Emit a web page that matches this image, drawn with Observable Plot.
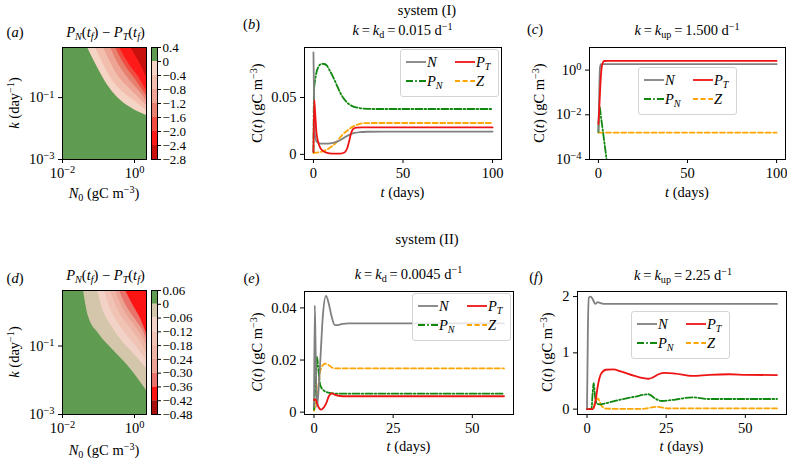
<!DOCTYPE html>
<html>
<head>
<meta charset="utf-8">
<script src="https://cdn.jsdelivr.net/npm/d3@7"></script>
<script src="https://cdn.jsdelivr.net/npm/@observablehq/plot@0.6"></script>
<style>
html,body{margin:0;padding:0;background:#fff;}
#fig{position:relative;width:787px;height:461px;overflow:hidden;background:#fff;font-family:"Liberation Serif","DejaVu Serif",serif;font-size:14.5px;color:#000;}
#fig .t{position:absolute;white-space:nowrap;line-height:1;}
#fig sub,#fig sup{font-size:0.7em;line-height:0;position:relative;vertical-align:baseline;}
#fig sub{top:0.32em;}
#fig sup{top:-0.5em;}
#fig svg.panel{position:absolute;overflow:visible;}
.leg{position:absolute;box-sizing:border-box;border:1px solid #d4d4d4;border-radius:3px;background:rgba(255,255,255,0.8);}
.leg .e{position:absolute;white-space:nowrap;line-height:1;transform:translateY(-50%);}
.leg svg{position:absolute;}
</style>
</head>
<body>
<div id="fig"></div>
<script>
// ================= DATA =================
// contour panels (a) and (d): colour levels, tick labels, band colours
const levelsA = [0.4, 0, -0.4, -0.8, -1.2, -1.6, -2.0, -2.4, -2.8];
const levelLabelsA = ["0.4", "0", "−0.4", "−0.8", "−1.2", "−1.6", "−2.0", "−2.4", "−2.8"];
const colorsA = ["#5f9b51", "#f5d3c5", "#f2bfae", "#eda494", "#e8806f", "#f04d42", "#ff1a1a", "#c8100c"];
const levelsD = [0.06, 0, -0.06, -0.12, -0.18, -0.24, -0.30, -0.36, -0.42, -0.48];
const levelLabelsD = ["0.06", "0", "−0.06", "−0.12", "−0.18", "−0.24", "−0.30", "−0.36", "−0.42", "−0.48"];
const colorsD = ["#5f9b51", "#d4c6ab", "#f2d2c6", "#f0c3b5", "#eeb4a5", "#eca293", "#e9736a", "#fc1414", "#a80f0d"];

// contour boundaries [N0, k] (level 0, -0.4, ... for (a))
const boundA0 = [[0.0494, 4.17], [0.0938, 0.939], [0.1667, 0.286], [0.3373, 0.101], [0.7743, 0.048], [2.154, 0.0264]];
const boundA1 = [[0.0826, 4.17], [0.1377, 1.176], [0.2448, 0.357], [0.5275, 0.136], [1.066, 0.075], [2.154, 0.0384]];
const boundA2 = [[0.1377, 4.17], [0.2154, 1.365], [0.3594, 0.482], [0.681, 0.212], [1.212, 0.1087], [2.154, 0.0556]];
const boundA3 = [[0.2154, 4.17], [0.3162, 1.585], [0.5275, 0.603], [0.879, 0.286], [1.468, 0.146], [2.154, 0.0807]];
const boundA4 = [[0.2965, 4.17], [0.4355, 1.706], [0.681, 0.753], [1.066, 0.386], [1.565, 0.197], [2.154, 0.117]];
const boundA5 = [[0.3831, 4.17], [0.5623, 1.837], [0.8254, 0.939], [1.212, 0.519], [1.668, 0.286], [2.154, 0.170]];
const boundA6 = [[0.7743, 4.17], [1.066, 2.30], [1.377, 1.365], [1.668, 0.873], [2.154, 0.447]];
// (d): level 0, -0.06, ... -0.36
const boundD0 = [[0.0383, 4.17], [0.0527, 0.726], [0.1, 0.232], [0.261, 0.074], [0.681, 0.0252], [2.154, 0.00502]];
const boundD1 = [[0.0938, 4.17], [0.1292, 1.245], [0.2154, 0.425], [0.4355, 0.145], [0.938, 0.0604], [2.154, 0.022]];
const boundD2 = [[0.1468, 4.17], [0.2023, 1.422], [0.3162, 0.556], [0.5995, 0.217], [1.136, 0.0966], [2.154, 0.0378]];
const boundD3 = [[0.2154, 4.17], [0.2965, 1.629], [0.4642, 0.679], [0.7743, 0.324], [1.377, 0.145], [2.154, 0.0646]];
const boundD4 = [[0.2965, 4.17], [0.4084, 1.741], [0.5995, 0.832], [1.0, 0.397], [1.565, 0.203], [2.154, 0.1035]];
const boundD5 = [[0.3831, 4.17], [0.5275, 1.862], [0.7743, 0.951], [1.212, 0.485], [1.778, 0.265], [2.154, 0.155]];
const boundD6 = [[0.5623, 4.17], [0.7743, 2.13], [1.066, 1.163], [1.468, 0.635], [2.154, 0.232]];

const n0Domain = [0.01, 2.154];
const kDomain = [0.001, 4.17];
const n0Ticks = [0.01, 1];
const n0TickLabels = ["10^−2", "10^0"];
const kTicks = [0.001, 0.1];
const kTickLabels = ["10^−3", "10^−1"];

// time series (t in days, C in gC m^-3)
// (b) system I, k = kd = 0.015
const bN = [[0, 0.0897], [0.4, 0.04], [0.9, 0.016], [1.6, 0.0115], [3, 0.0099], [5, 0.0094], [8, 0.0094], [11, 0.0101], [14, 0.0118], [17, 0.0145], [20, 0.0172], [23, 0.0189], [26, 0.0196], [30, 0.0199], [40, 0.0201], [100, 0.0201]];
const bPT = [[0, 0.002], [0.45, 0.048], [1, 0.035], [1.7, 0.019], [2.6, 0.011], [3.6, 0.0064], [5, 0.0035], [6.5, 0.002], [9, 0.0009], [12, 0.0006], [15, 0.0006], [17.5, 0.0018], [19, 0.006], [20, 0.012], [21, 0.0185], [22.3, 0.0225], [24, 0.0235], [27, 0.0237], [100, 0.0237]];
const bPN = [[0, 0.002], [0.3, 0.056], [1, 0.066], [1.7, 0.0722], [3, 0.0775], [4.5, 0.0796], [6, 0.0795], [7.5, 0.078], [9, 0.074], [11, 0.068], [13, 0.061], [14.8, 0.0547], [16.5, 0.05], [18.6, 0.0459], [20.5, 0.0435], [22.3, 0.042], [25, 0.041], [28, 0.0403], [35, 0.0399], [100, 0.0399]];
const bZ = [[0, 0.0012], [3.6, 0.002], [5.5, 0.0029], [7.3, 0.0041], [9, 0.0057], [11, 0.0079], [13, 0.011], [14.8, 0.0146], [16.5, 0.0178], [18.6, 0.0205], [20.5, 0.0229], [22.3, 0.0246], [24, 0.0259], [26, 0.0269], [29, 0.0275], [35, 0.0276], [100, 0.0276]];
// (c) system I, k = kup = 1.5 (log axis)
const cN = [[0, 0.0019], [0.3, 0.02], [0.6, 0.3], [0.9, 1.3], [1.3, 1.8], [2, 1.85], [100, 1.85]];
const cPT = [[0, 0.0038], [0.5, 0.02], [1, 0.15], [1.5, 0.7], [2.2, 1.85], [3.2, 2.55], [5, 2.6], [100, 2.6]];
const cPN = [[0, 0.0017], [0.6, 0.023], [1.5, 0.0075], [2.5, 0.0019], [3.5, 0.00047], [4.6, 0.0001], [5.5, 0.00003]];
const cZ = [[0, 0.0016], [100, 0.0016]];
// (e) system II, k = kd = 0.0045
const eN = [[0, 0.002], [0.25, 0.041], [0.5, 0.025], [0.9, 0.002], [1.3, 0.006], [2, 0.02], [2.8, 0.037], [3.8, 0.0446], [4.6, 0.042], [5.5, 0.037], [6.5, 0.0335], [7.5, 0.0334], [9, 0.0339], [11, 0.0341], [60, 0.0341]];
const ePT = [[0, 0.0046], [0.4, 0.005], [1, 0.0033], [1.5, 0.0018], [2.2, 0.001], [3.2, 0.002], [4, 0.0038], [4.6, 0.0059], [5.7, 0.0072], [6.7, 0.0066], [8.3, 0.0062], [10, 0.0061], [60, 0.0061]];
const ePN = [[0, 0.001], [0.5, 0.012], [0.95, 0.0212], [1.4, 0.016], [2, 0.0103], [3, 0.0084], [4.6, 0.0075], [6.2, 0.0072], [8, 0.0071], [60, 0.0071]];
const eZ = [[0, 0.0005], [1, 0.006], [2, 0.016], [3, 0.0183], [3.6, 0.0186], [4.6, 0.0181], [5.7, 0.0171], [7, 0.0168], [60, 0.0168]];
// (f) system II, k = kup = 2.25
const fN = [[0, 0], [0.3, 1.5], [0.6, 1.98], [1.2, 2.0], [2.0, 1.93], [2.6, 1.87], [3.4, 1.9], [4.5, 1.88], [6, 1.87], [60, 1.87]];
const fPT = [[0, 0], [1.8, 0], [2.3, 0.05], [2.9, 0.22], [3.4, 0.41], [4.5, 0.635], [6, 0.7], [8.2, 0.705], [10.9, 0.665], [15, 0.59], [19.4, 0.54], [21, 0.57], [22.6, 0.62], [24.7, 0.644], [27.9, 0.63], [33.2, 0.59], [38.6, 0.61], [45, 0.62], [50.3, 0.61], [60, 0.605]];
const fPN = [[0, 0], [1.4, 0], [1.8, 0.3], [2.1, 0.46], [2.6, 0.2], [3.1, 0.1], [4, 0.085], [5.5, 0.1], [9.8, 0.16], [15, 0.22], [19.4, 0.265], [21.5, 0.19], [23.6, 0.145], [27.9, 0.17], [33.2, 0.21], [38.6, 0.18], [47, 0.18], [60, 0.18]];
const fZ = [[0, 0], [1.8, 0], [2.6, 0.12], [3.4, 0.19], [4.5, 0.07], [6, 0.01], [10, 0.005], [17.3, 0.005], [22, 0.04], [25.8, 0.012], [35, 0.015], [60, 0.015]];

// axis ticks
const tTicksI = [0, 50, 100];
const tTickLabelsI = ["0", "50", "100"];
const tTicksII = [0, 25, 50];
const tTickLabelsII = ["0", "25", "50"];
const yTicksB = [0, 0.05];
const yTickLabelsB = ["0", "0.05"];
const yTicksC = [1e-4, 1e-2, 1];
const yTickLabelsC = ["10^−4", "10^−2", "10^0"];
const yTicksE = [0, 0.02, 0.04];
const yTickLabelsE = ["0", "0.02", "0.04"];
const yTicksF = [0, 1, 2];
const yTickLabelsF = ["0", "1", "2"];

// series styles and legend names
const seriesStyle = {
  N: {stroke: "#808080", dash: null, name: "<i>N</i>"},
  PT: {stroke: "#ee1414", dash: null, name: "<i>P</i><sub><i>T</i></sub>"},
  PN: {stroke: "#108810", dash: "7,2.2,1.6,2.2", name: "<i>P</i><sub><i>N</i></sub>"},
  Z: {stroke: "#ffa500", dash: "5,2.6", name: "<i>Z</i>"}
};

// ================= DRAWING =================
const FONT = '"Liberation Serif","DejaVu Serif",serif';
const FS = "14.5px";
const fig = document.getElementById("fig");
const NS = "http://www.w3.org/2000/svg";

function fmt(ticks, labels) {
  const m = new Map(ticks.map((t, i) => [t, labels[i]]));
  return d => (m.has(d) ? m.get(d) : "");
}
function supTicks(svg) {
  svg.querySelectorAll("text").forEach(t => {
    const m = /^10\^(.+)$/.exec(t.textContent);
    if (m) {
      t.textContent = "10";
      const s = document.createElementNS(NS, "tspan");
      s.setAttribute("dy", "-0.45em");
      s.setAttribute("font-size", "0.72em");
      s.textContent = m[1];
      t.appendChild(s);
    }
  });
}
function mount(svg, left, top) {
  svg.classList.add("panel");
  svg.style.left = left + "px";
  svg.style.top = top + "px";
  fig.appendChild(svg);
}
const baseStyle = {fontFamily: FONT, fontSize: FS, color: "#000", background: "transparent", overflow: "visible"};

function linePanel(o) {
  const [x0, x1, y0, y1] = o.frame, ml = 70, mr = 6, mt = 6, mb = 36;
  const lines = o.series.map(s => Plot.line(s.data, {
    x: d => d[0], y: d => d[1], stroke: seriesStyle[s.key].stroke, strokeWidth: 1.8,
    strokeDasharray: seriesStyle[s.key].dash || undefined, curve: "monotone-x", clip: true
  }));
  const svg = Plot.plot({
    width: (x1 - x0) + ml + mr, height: (y1 - y0) + mt + mb,
    marginLeft: ml, marginRight: mr, marginTop: mt, marginBottom: mb,
    style: baseStyle,
    x: {domain: o.xDomain},
    y: {type: o.yType || "linear", domain: o.yDomain},
    marks: [
      ...lines,
      Plot.frame({stroke: "#000"}),
      Plot.axisX({ticks: o.xTicks, tickFormat: fmt(o.xTicks, o.xLabels), tickSize: 4, tickPadding: 4, label: null}),
      Plot.axisY({ticks: o.yTicks, tickFormat: fmt(o.yTicks, o.yLabels), tickSize: 4, tickPadding: 4, label: null})
    ]
  });
  supTicks(svg);
  mount(svg, x0 - ml, y0 - mt);
}

function contourPanel(o) {
  const [x0, x1, y0, y1] = o.frame, ml = 70, mr = 4, mt = 6, mb = 36;
  const kTop = kDomain[1];
  const areas = o.bounds.map((b, i) => Plot.area(b, {
    x1: d => d[0], y1: d => d[1], y2: () => kTop, fill: o.colors[i + 1], curve: "monotone-x", clip: true
  }));
  const svg = Plot.plot({
    width: (x1 - x0) + ml + mr, height: (y1 - y0) + mt + mb,
    marginLeft: ml, marginRight: mr, marginTop: mt, marginBottom: mb,
    style: baseStyle,
    x: {type: "log", domain: n0Domain},
    y: {type: "log", domain: kDomain},
    marks: [
      Plot.frame({fill: o.colors[0], stroke: "none"}),
      ...areas,
      Plot.frame({stroke: "#000"}),
      Plot.axisX({ticks: n0Ticks, tickFormat: fmt(n0Ticks, n0TickLabels), tickSize: 4, tickPadding: 4, label: null}),
      Plot.axisY({ticks: kTicks, tickFormat: fmt(kTicks, kTickLabels), tickSize: 4, tickPadding: 4, label: null})
    ]
  });
  supTicks(svg);
  mount(svg, x0 - ml, y0 - mt);
}

function colorbar(o) {
  const [x0, x1, y0, y1] = o.frame, ml = 2, mr = 50, mt = 6, mb = 6;
  const bands = o.colors.map((c, i) => ({hi: o.levels[i], lo: o.levels[i + 1], c}));
  const svg = Plot.plot({
    width: (x1 - x0) + ml + mr, height: (y1 - y0) + mt + mb,
    marginLeft: ml, marginRight: mr, marginTop: mt, marginBottom: mb,
    style: {...baseStyle, fontSize: "13px"},
    x: {domain: [0, 1], axis: null},
    y: {domain: [o.levels[o.levels.length - 1], o.levels[0]]},
    color: {type: "identity"},
    marks: [
      Plot.rect(bands, {x1: () => 0, x2: () => 1, y1: "lo", y2: "hi", fill: "c"}),
      Plot.frame({stroke: "#000"}),
      Plot.axisY({anchor: "right", ticks: o.levels, tickFormat: fmt(o.levels, o.labels), tickSize: 3, tickPadding: 2, label: null})
    ]
  });
  mount(svg, x0 - ml, y0 - mt);
}

function txt(html, cx, cy, rot) {
  const d = document.createElement("div");
  d.className = "t";
  d.innerHTML = html;
  d.style.left = cx + "px";
  d.style.top = cy + "px";
  d.style.transform = "translate(-50%,-50%)" + (rot ? ` rotate(${rot}deg)` : "");
  fig.appendChild(d);
}

const legendOrder = [{key: "N", col: 0, row: 0}, {key: "PT", col: 1, row: 0}, {key: "PN", col: 0, row: 1}, {key: "Z", col: 1, row: 1}];
function legend(left, top) {
  const box = document.createElement("div");
  box.className = "leg";
  Object.assign(box.style, {left: left + "px", top: top + "px", width: "99px", height: "48px"});
  legendOrder.forEach(it => {
    const s = seriesStyle[it.key];
    const lx = it.col ? 54 : 5, ly = it.row ? 31 : 12;
    const sw = document.createElementNS(NS, "svg");
    sw.setAttribute("width", 20); sw.setAttribute("height", 6);
    sw.style.left = lx + "px"; sw.style.top = (ly - 3) + "px";
    const ln = document.createElementNS(NS, "line");
    ln.setAttribute("x1", 0); ln.setAttribute("x2", 20); ln.setAttribute("y1", 3); ln.setAttribute("y2", 3);
    ln.setAttribute("stroke", s.stroke); ln.setAttribute("stroke-width", 1.8);
    if (s.dash) ln.setAttribute("stroke-dasharray", s.dash);
    sw.appendChild(ln);
    box.appendChild(sw);
    const e = document.createElement("div");
    e.className = "e";
    e.innerHTML = s.name;
    e.style.left = (lx + 21) + "px";
    e.style.top = ly + "px";
    box.appendChild(e);
  });
  fig.appendChild(box);
}

// ---- contour panels ----
contourPanel({frame: [62, 146, 47, 159], bounds: [boundA0, boundA1, boundA2, boundA3, boundA4, boundA5, boundA6], colors: colorsA});
colorbar({frame: [151, 157, 47, 159], levels: levelsA, labels: levelLabelsA, colors: colorsA});
contourPanel({frame: [62, 146, 290, 414], bounds: [boundD0, boundD1, boundD2, boundD3, boundD4, boundD5, boundD6], colors: colorsD});
colorbar({frame: [151, 157, 290, 414], levels: levelsD, labels: levelLabelsD, colors: colorsD});

// ---- time series panels ----
linePanel({frame: [304, 501, 47, 159], xDomain: [-5, 105], yDomain: [-0.0045, 0.094],
  xTicks: tTicksI, xLabels: tTickLabelsI, yTicks: yTicksB, yLabels: yTickLabelsB,
  series: [{key: "Z", data: bZ}, {key: "PN", data: bPN}, {key: "N", data: bN}, {key: "PT", data: bPT}]});
linePanel({frame: [589, 785, 47, 159], xDomain: [-5, 105], yDomain: [1e-4, 10.26], yType: "log",
  xTicks: tTicksI, xLabels: tTickLabelsI, yTicks: yTicksC, yLabels: yTickLabelsC,
  series: [{key: "Z", data: cZ}, {key: "PN", data: cPN}, {key: "N", data: cN}, {key: "PT", data: cPT}]});
linePanel({frame: [304, 513, 291, 414], xDomain: [-3, 63], yDomain: [-0.0009, 0.0463],
  xTicks: tTicksII, xLabels: tTickLabelsII, yTicks: yTicksE, yLabels: yTickLabelsE,
  series: [{key: "Z", data: eZ}, {key: "PN", data: ePN}, {key: "N", data: eN}, {key: "PT", data: ePT}]});
linePanel({frame: [577, 786, 291, 414], xDomain: [-3, 63], yDomain: [-0.095, 2.09],
  xTicks: tTicksII, xLabels: tTickLabelsII, yTicks: yTicksF, yLabels: yTickLabelsF,
  series: [{key: "Z", data: fZ}, {key: "PN", data: fPN}, {key: "N", data: fN}, {key: "PT", data: fPT}]});

legend(400, 49);
legend(638, 67);
legend(412, 293);
legend(631, 311);

// ---- texts ----
const diffTitle = "<i>P</i><sub><i>N</i></sub>(<i>t</i><sub><i>f</i></sub>) − <i>P</i><sub><i>T</i></sub>(<i>t</i><sub><i>f</i></sub>)";
const kLabel = "<i>k</i> (day<sup>−1</sup>)";
const n0Label = "<i>N</i><sub>0</sub> (gC m<sup>−3</sup>)";
const tLabel = "<i>t</i> (days)";
const cLabel = "C(<i>t</i>) (gC m<sup>−3</sup>)";
const cLabelItalic = "<i>C</i>(<i>t</i>) (gC m<sup>−3</sup>)";

txt("system (I)", 427, 10);
txt("system (II)", 427, 239);
txt("(<i>a</i>)", 15, 32);
txt("(<i>b</i>)", 251.5, 24);
txt("(<i>c</i>)", 535, 28.5);
txt("(<i>d</i>)", 15, 278);
txt("(<i>e</i>)", 251.5, 278);
txt("(<i>f</i>)", 536, 277);
txt(diffTitle, 105.5, 32);
txt(diffTitle, 105.5, 275);
txt("<i>k</i>\u2009=\u2009<i>k</i><sub>d</sub>\u2009=\u20090.015 d<sup>−1</sup>", 402.5, 30);
txt("<i>k</i>\u2009=\u2009<i>k</i><sub>up</sub>\u2009=\u20091.500 d<sup>−1</sup>", 687, 30);
txt("<i>k</i>\u2009=\u2009<i>k</i><sub>d</sub>\u2009=\u20090.0045 d<sup>−1</sup>", 408.5, 273.5);
txt("<i>k</i>\u2009=\u2009<i>k</i><sub>up</sub>\u2009=\u20092.25 d<sup>−1</sup>", 683, 275);
txt(kLabel, 14, 103, -90);
txt(kLabel, 14, 352, -90);
txt(cLabel, 257, 103, -90);
txt(cLabel, 539, 103, -90);
txt(cLabelItalic, 256.5, 352, -90);
txt(cLabel, 547, 352, -90);
txt(n0Label, 104, 193);
txt(n0Label, 104, 450);
txt(tLabel, 402.5, 192);
txt(tLabel, 687, 192);
txt(tLabel, 408.5, 446);
txt(tLabel, 681.5, 446);
</script>
</body>
</html>
